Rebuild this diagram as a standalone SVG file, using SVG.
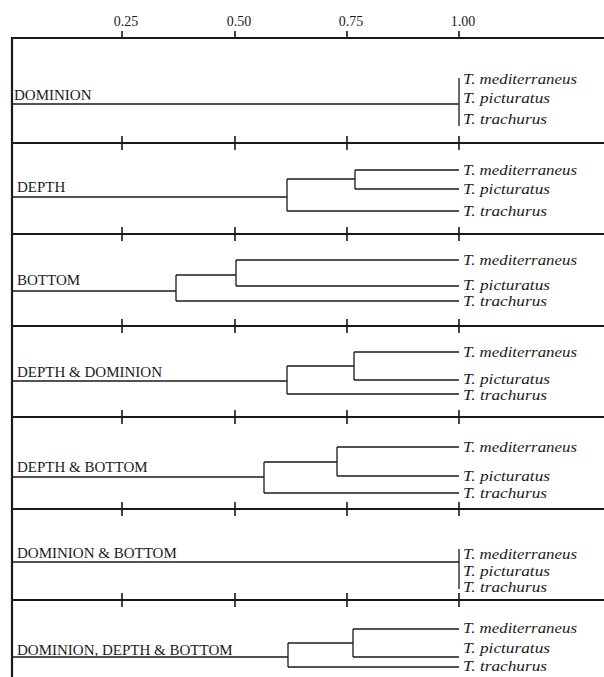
<svg xmlns="http://www.w3.org/2000/svg" width="604" height="677" viewBox="0 0 604 677">
<style>
.ax{stroke:#1a1a1a;stroke-width:2.2;fill:none}
.tk{stroke:#1a1a1a;stroke-width:1.6;fill:none}
.tr{stroke:#1a1a1a;stroke-width:1.3;fill:none}
.num{font-family:"Liberation Serif",serif;font-size:14px;fill:#1a1a1a;text-anchor:middle}
.lab{font-family:"Liberation Serif",serif;font-size:15px;fill:#1a1a1a}
.sp{font-family:"Liberation Serif",serif;font-size:15px;font-style:italic;fill:#1a1a1a}
</style>
<rect width="604" height="677" fill="#fff"/>
<g id="axes">
<line class="ax" x1="12" y1="38" x2="12" y2="677"/>
<line class="ax" x1="11" y1="38" x2="604" y2="38"/>
<path class="tk" d="M122 31V38M235 31V38M347 31V38M459 31V38"/>
<text class="num" x="126" y="26">0.25</text>
<text class="num" x="239" y="26">0.50</text>
<text class="num" x="351" y="26">0.75</text>
<text class="num" x="463" y="26">1.00</text>
<g id="sep1"><line class="ax" x1="12" y1="143" x2="604" y2="143"/><path class="tk" d="M122 136V150M235 136V150M347 136V150M459 136V150"/></g>
<g id="sep2"><line class="ax" x1="12" y1="234" x2="604" y2="234"/><path class="tk" d="M122 227V241M235 227V241M347 227V241M459 227V241"/></g>
<g id="sep3"><line class="ax" x1="12" y1="326" x2="604" y2="326"/><path class="tk" d="M122 319V333M235 319V333M347 319V333M459 319V333"/></g>
<g id="sep4"><line class="ax" x1="12" y1="417" x2="604" y2="417"/><path class="tk" d="M122 410V424M235 410V424M347 410V424M459 410V424"/></g>
<g id="sep5"><line class="ax" x1="12" y1="509" x2="604" y2="509"/><path class="tk" d="M122 502V516M235 502V516M347 502V516M459 502V516"/></g>
<g id="sep6"><line class="ax" x1="12" y1="600" x2="604" y2="600"/><path class="tk" d="M122 593V607M235 593V607M347 593V607M459 593V607"/></g>
</g>
<g id="connectors">
<path class="tr" d="M12 104H459M459 78V126"/>
<path class="tr" d="M12 197H287M287 179V211M287 179H355M355 170V189M355 170H459M355 189H459M287 211H459"/>
<path class="tr" d="M12 291H176M176 275V301M176 275H236M236 260V286M236 260H459M236 286H459M176 301H459"/>
<path class="tr" d="M12 381H287M287 366V394M287 366H354M354 352V380M354 352H459M354 380H459M287 394H459"/>
<path class="tr" d="M12 477H264M264 462V493M264 462H337M337 447V476M337 447H459M337 476H459M264 493H459"/>
<path class="tr" d="M12 562H459M459 549V589"/>
<path class="tr" d="M12 657H288M288 643V667M288 643H353M353 629V657M353 629H459M353 657H459M288 667H459"/>
</g>
<g id="panel-dominion">
<text class="lab" x="14" y="100">DOMINION</text>
<text class="sp" x="463" y="84" textLength="114" lengthAdjust="spacingAndGlyphs">T. mediterraneus</text>
<text class="sp" x="463" y="103" textLength="87" lengthAdjust="spacingAndGlyphs">T. picturatus</text>
<text class="sp" x="463" y="124" textLength="84" lengthAdjust="spacingAndGlyphs">T. trachurus</text>
</g>
<g id="panel-depth">
<text class="lab" x="17" y="192">DEPTH</text>
<text class="sp" x="463" y="175" textLength="114" lengthAdjust="spacingAndGlyphs">T. mediterraneus</text>
<text class="sp" x="463" y="194" textLength="87" lengthAdjust="spacingAndGlyphs">T. picturatus</text>
<text class="sp" x="463" y="216" textLength="84" lengthAdjust="spacingAndGlyphs">T. trachurus</text>
</g>
<g id="panel-bottom">
<text class="lab" x="17" y="285">BOTTOM</text>
<text class="sp" x="463" y="265" textLength="114" lengthAdjust="spacingAndGlyphs">T. mediterraneus</text>
<text class="sp" x="463" y="290" textLength="87" lengthAdjust="spacingAndGlyphs">T. picturatus</text>
<text class="sp" x="463" y="306" textLength="84" lengthAdjust="spacingAndGlyphs">T. trachurus</text>
</g>
<g id="panel-depth-dominion">
<text class="lab" x="17" y="377">DEPTH &amp; DOMINION</text>
<text class="sp" x="463" y="357" textLength="114" lengthAdjust="spacingAndGlyphs">T. mediterraneus</text>
<text class="sp" x="463" y="384" textLength="87" lengthAdjust="spacingAndGlyphs">T. picturatus</text>
<text class="sp" x="463" y="400" textLength="84" lengthAdjust="spacingAndGlyphs">T. trachurus</text>
</g>
<g id="panel-depth-bottom">
<text class="lab" x="17" y="472">DEPTH &amp; BOTTOM</text>
<text class="sp" x="463" y="452" textLength="114" lengthAdjust="spacingAndGlyphs">T. mediterraneus</text>
<text class="sp" x="463" y="481" textLength="87" lengthAdjust="spacingAndGlyphs">T. picturatus</text>
<text class="sp" x="463" y="498" textLength="84" lengthAdjust="spacingAndGlyphs">T. trachurus</text>
</g>
<g id="panel-dominion-bottom">
<text class="lab" x="17" y="558">DOMINION &amp; BOTTOM</text>
<text class="sp" x="463" y="559" textLength="114" lengthAdjust="spacingAndGlyphs">T. mediterraneus</text>
<text class="sp" x="463" y="576" textLength="87" lengthAdjust="spacingAndGlyphs">T. picturatus</text>
<text class="sp" x="463" y="592" textLength="84" lengthAdjust="spacingAndGlyphs">T. trachurus</text>
</g>
<g id="panel-dominion-depth-bottom">
<text class="lab" x="17" y="655">DOMINION, DEPTH &amp; BOTTOM</text>
<text class="sp" x="463" y="633" textLength="114" lengthAdjust="spacingAndGlyphs">T. mediterraneus</text>
<text class="sp" x="463" y="653" textLength="87" lengthAdjust="spacingAndGlyphs">T. picturatus</text>
<text class="sp" x="463" y="671" textLength="84" lengthAdjust="spacingAndGlyphs">T. trachurus</text>
</g>
</svg>
